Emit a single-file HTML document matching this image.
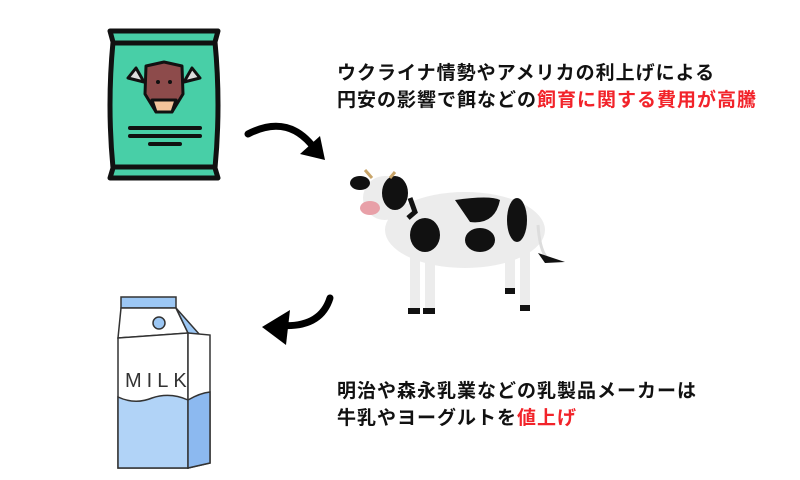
<!DOCTYPE html>
<html><head><meta charset="utf-8"><style>
body{margin:0;width:800px;height:480px;background:#fff;overflow:hidden;position:relative;font-family:"Liberation Sans","Noto Sans CJK JP",sans-serif}
.t{position:absolute;left:337px;font-size:19px;font-weight:bold;color:#111;line-height:27px;white-space:nowrap;letter-spacing:1px}
.r{color:#f2232a}
svg{position:absolute;left:0;top:0}
</style></head><body>
<svg width="800" height="480" viewBox="0 0 800 480">
<!-- feed bag -->
<path d="M110,31 L218,31 L215,42 Q221,105 215,168 L218,178 L110,178 L113,168 Q107,105 113,42 Z" fill="#48cfa7" stroke="#111" stroke-width="5" stroke-linejoin="round"/>
<line x1="111" y1="43" x2="217" y2="43" stroke="#111" stroke-width="5"/>
<line x1="111" y1="167" x2="217" y2="167" stroke="#111" stroke-width="5"/>
<path d="M136,68 L128,78 L144,82 Z M192,68 L200,78 L184,82 Z" fill="#ddd" stroke="#111" stroke-width="3" stroke-linejoin="round"/>
<path d="M146,66 L164,62 L182,66 L183,94 L172,112 L156,112 L145,94 Z" fill="#8d4b4b" stroke="#111" stroke-width="3" stroke-linejoin="round"/>
<path d="M152,100 L176,100 L172,112 L156,112 Z" fill="#f2c39a" stroke="#111" stroke-width="3" stroke-linejoin="round"/>
<circle cx="158" cy="82" r="2" fill="#111"/><circle cx="170" cy="82" r="2" fill="#111"/>
<line x1="130" y1="128" x2="200" y2="128" stroke="#111" stroke-width="4" stroke-linecap="round"/>
<line x1="130" y1="136" x2="200" y2="136" stroke="#111" stroke-width="4" stroke-linecap="round"/>
<line x1="150" y1="144" x2="180" y2="144" stroke="#111" stroke-width="4" stroke-linecap="round"/>
<!-- arrow 1 -->
<path d="M248,134 Q290,112 317,152" fill="none" stroke="#000" stroke-width="7" stroke-linecap="round"/>
<path d="M320,136 L325,160 L300,154 Z" fill="#000"/>
<!-- arrow 2 -->
<path d="M330,298 Q320,330 275,325" fill="none" stroke="#000" stroke-width="7" stroke-linecap="round"/>
<path d="M262,327 L290,310 L286,345 Z" fill="#000"/>
<!-- cow -->
<g>
<ellipse cx="465" cy="230" rx="80" ry="38" fill="#ececec"/>
<ellipse cx="385" cy="198" rx="22" ry="22" fill="#ececec"/>
<path d="M395,205 L430,215 L430,260 L400,250 Z" fill="#ececec"/>
<rect x="410" y="250" width="10" height="60" fill="#ececec"/>
<rect x="425" y="255" width="10" height="55" fill="#ececec"/>
<rect x="505" y="255" width="10" height="35" fill="#ececec"/>
<rect x="520" y="250" width="10" height="55" fill="#ececec"/>
<rect x="408" y="308" width="12" height="6" fill="#111"/><rect x="423" y="308" width="12" height="6" fill="#111"/>
<rect x="505" y="288" width="10" height="6" fill="#111"/><rect x="520" y="305" width="10" height="6" fill="#111"/>
<path d="M538,225 Q540,255 550,260" stroke="#ddd" stroke-width="3" fill="none"/>
<path d="M538,253 L565,262 L545,263 Z" fill="#111"/>
<ellipse cx="360" cy="183" rx="10" ry="7" fill="#111"/>
<ellipse cx="395" cy="193" rx="13" ry="17" fill="#111"/>
<path d="M365,170 L372,178 M395,172 L390,178" stroke="#c9a56a" stroke-width="3"/>
<ellipse cx="370" cy="208" rx="10" ry="7" fill="#e8a0a8"/>
<ellipse cx="425" cy="235" rx="15" ry="17" fill="#111"/>
<path d="M455,200 Q490,195 500,200 Q495,225 470,222 Z" fill="#111"/>
<ellipse cx="480" cy="240" rx="15" ry="12" fill="#111"/>
<ellipse cx="517" cy="220" rx="10" ry="22" fill="#111"/>
<path d="M410,198 L415,212 L408,218" stroke="#111" stroke-width="5" fill="none"/>
</g>
<!-- milk -->
<path d="M121,297 L176,297 L176,308 L121,308 Z" fill="#9cc7f4" stroke="#333" stroke-width="1.5"/>
<path d="M121,308 L176,308 L188,333 L118,338 Z" fill="#fff" stroke="#333" stroke-width="1.5"/>
<path d="M176,308 L200,335 L188,333 Z" fill="#9cc7f4" stroke="#333" stroke-width="1.5"/>
<path d="M118,338 L188,333 L188,468 L118,468 Z" fill="#fff" stroke="#333" stroke-width="1.5"/>
<path d="M188,333 L210,335 L210,463 L188,468 Z" fill="#fff" stroke="#333" stroke-width="1.5"/>
<path d="M118,397 Q135,405 152,398 Q170,392 188,400 L188,468 L118,468 Z" fill="#b1d3f7" stroke="#333" stroke-width="1.5"/>
<path d="M188,400 Q200,393 210,392 L210,463 L188,468 Z" fill="#8cb9f0" stroke="#333" stroke-width="1.5"/>
<circle cx="159" cy="323" r="6" fill="#9cc7f4" stroke="#333" stroke-width="1.5"/>
<text x="125" y="387" font-family="Liberation Sans" font-size="20" fill="#333" letter-spacing="5">MILK</text>
</svg>
<div class="t" style="top:60px">ウクライナ情勢やアメリカの利上げによる<br>円安の影響で餌などの<span class="r">飼育に関する費用が高騰</span></div>
<div class="t" style="top:378px">明治や森永乳業などの乳製品メーカーは<br>牛乳やヨーグルトを<span class="r">値上げ</span></div>
</body></html>
